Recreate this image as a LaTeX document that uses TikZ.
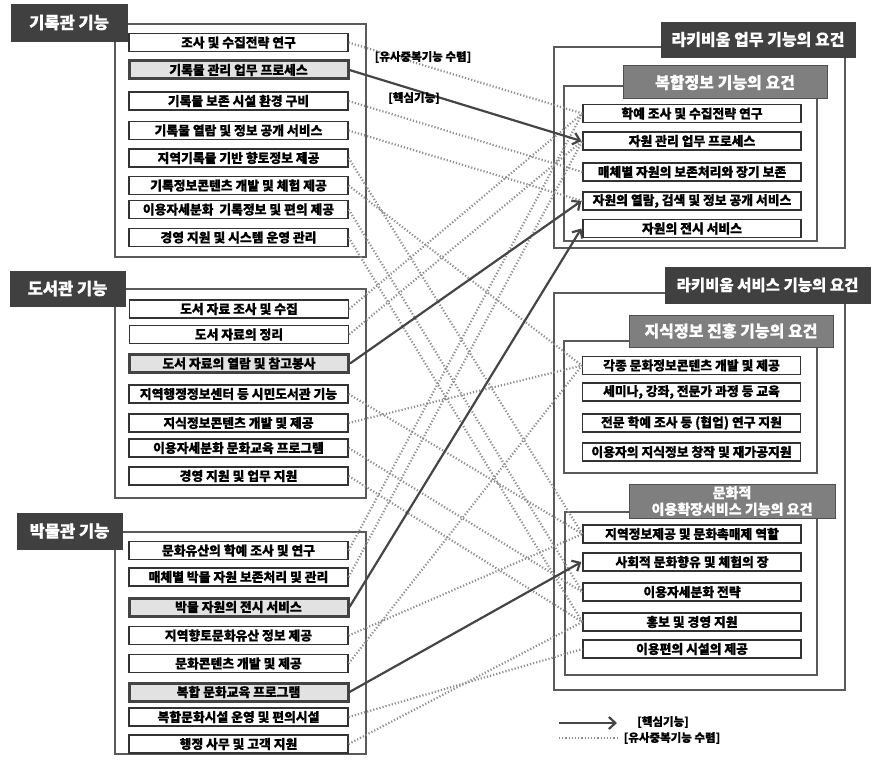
\documentclass[tikz,border=0pt]{standalone}
\usepackage{fontspec}
\setmainfont{Noto Sans CJK KR}[BoldFeatures={FakeBold=0.6}]
\usetikzlibrary{arrows.meta}
\definecolor{hdark}{HTML}{404040}
\definecolor{hmid}{HTML}{7F7F7F}
\definecolor{hmidline}{HTML}{505050}
\definecolor{outl}{HTML}{5A5A5A}
\definecolor{itemline}{HTML}{333333}
\definecolor{keyfill}{HTML}{E2E2E2}
\definecolor{keyline}{HTML}{444444}
\definecolor{dotc}{HTML}{8E8E8E}
\definecolor{arrowc}{HTML}{454545}
\begin{document}
\begin{tikzpicture}[x=1pt,y=-1pt,
  outer/.style={draw=outl,line width=1.1pt,fill=none,inner sep=0pt},
  hdr/.style={fill=hdark,draw=hdark,text=white,inner sep=0pt,font=\fontsize{16.5}{18}\selectfont\bfseries},
  sub/.style={fill=hmid,draw=hmidline,line width=1pt,text=white,inner sep=0pt,font=\fontsize{16}{18}\selectfont\bfseries},
  item/.style={draw=itemline,line width=1.3pt,fill=white,minimum width=219pt,minimum height=18pt,inner sep=0pt,font=\fontsize{12.8}{14}\selectfont\bfseries},
  ritem/.style={item,minimum width=218pt},
  key/.style={item,fill=keyfill,draw=keyline,line width=3pt},
  sim/.style={draw=dotc,line width=2.2pt,dash pattern=on 1.2pt off 2pt},
  core/.style={draw=arrowc,line width=2.2pt,-{Straight Barb[length=6.5pt,width=12pt]}},
  lbl/.style={inner sep=0pt,font=\fontsize{11.5}{13}\selectfont\bfseries}
]
\useasboundingbox (0,0) rectangle (872,765);

% ---------- left outer boxes and headers ----------
\node[outer,minimum width=251pt,minimum height=233pt] (B1) at (240.5,140.5) {};
\node[outer,minimum width=251pt,minimum height=209pt] (B2) at (240.5,393.5) {};
\node[outer,minimum width=251pt,minimum height=222pt] (B3) at (240.5,643) {};
\node[hdr,minimum width=116pt,minimum height=37pt] (H1) at (69,22.5) {기록관 기능};
\node[hdr,minimum width=115pt,minimum height=35pt] (H2) at (67.5,288.5) {도서관 기능};
\node[hdr,minimum width=105pt,minimum height=36pt] (H3) at (69.5,531) {박물관 기능};

% ---------- right boxes and headers ----------
\node[outer,minimum width=291pt,minimum height=201pt] (RB1) at (699.5,147.5) {};
\node[hdr,minimum width=194pt,minimum height=35pt,font=\fontsize{16}{18}\selectfont\bfseries] (RH1) at (758,39.5) {라키비움 업무 기능의 요건};
\node[outer,minimum width=253pt,minimum height=155pt] (RI1) at (690.5,163.5) {};
\node[sub,minimum width=204pt,minimum height=33pt] (RS1) at (725,82.5) {복합정보 기능의 요건};

\node[outer,minimum width=291pt,minimum height=397pt] (RB2) at (699.5,491.5) {};
\node[hdr,minimum width=205pt,minimum height=36pt,font=\fontsize{15.5}{18}\selectfont\bfseries] (RH2) at (767.5,285) {라키비움 서비스 기능의 요건};
\node[outer,minimum width=253pt,minimum height=132pt] (RI2) at (690.5,407) {};
\node[sub,minimum width=204pt,minimum height=32pt] (RS2) at (731,331) {지식정보 진흥 기능의 요건};
\node[outer,minimum width=252pt,minimum height=163pt] (RI3) at (691,593.5) {};
\node[sub,minimum width=206pt,minimum height=34pt,align=center,font=\fontsize{14}{16.5}\selectfont\bfseries] (RS3) at (732,501) {문화적\\이용확장서비스 기능의 요건};

% ---------- left items ----------
\node[item] (a1) at (238.5,42.5) {조사 및 수집전략 연구};
\node[key]  (a2) at (238.5,70) {기록물 관리 업무 프로세스};
\node[item] (a3) at (238.5,101) {기록물 보존 시설 환경 구비};
\node[item] (a4) at (238.5,130.5) {기록물 열람 및 정보 공개 서비스};
\node[item] (a5) at (238.5,158) {지역기록물 기반 향토정보 제공};
\node[item] (a6) at (238.5,185.5) {기록정보콘텐츠 개발 및 체험 제공};
\node[item] (a7) at (238.5,209.5) {이용자세분화 \ 기록정보 및 편의 제공};
\node[item] (a8) at (238.5,237.5) {경영 지원 및 시스템 운영 관리};

\node[item] (b1) at (239,309) {도서 자료 조사 및 수집};
\node[item] (b2) at (239,334.5) {도서 자료의 정리};
\node[key]  (b3) at (239,363.5) {도서 자료의 열람 및 참고봉사};
\node[item] (b4) at (238.5,394) {지역행정정보센터 등 시민도서관 기능};
\node[item] (b5) at (238.5,423) {지식정보콘텐츠 개발 및 제공};
\node[item] (b6) at (238.5,448) {이용자세분화 문화교육 프로그램};
\node[item] (b7) at (238.5,476) {경영 지원 및 업무 지원};

\node[item] (c1) at (238.5,550.5) {문화유산의 학예 조사 및 연구};
\node[item] (c2) at (238.5,577) {매체별 박물 자원 보존처리 및 관리};
\node[key]  (c3) at (238.5,607) {박물 자원의 전시 서비스};
\node[item] (c4) at (238.5,635.5) {지역향토문화유산 정보 제공};
\node[item] (c5) at (238.5,663.5) {문화콘텐츠 개발 및 제공};
\node[key]  (c6) at (238.5,692) {복합 문화교육 프로그램};
\node[item] (c7) at (238.5,717) {복합문화시설 운영 및 편의시설};
\node[item] (c8) at (238.5,744) {행정 사무 및 고객 지원};

% ---------- right items ----------
\node[ritem] (p1) at (692,113.5) {학예 조사 및 수집전략 연구};
\node[ritem] (p2) at (692,141) {자원 관리 업무 프로세스};
\node[ritem] (p3) at (692,172) {매체별 자원의 보존처리와 장기 보존};
\node[ritem] (p4) at (692,201) {자원의 열람, 검색 및 정보 공개 서비스};
\node[ritem] (p5) at (692,228.5) {자원의 전시 서비스};

\node[ritem] (q1) at (691.5,365.5) {각종 문화정보콘텐츠 개발 및 제공};
\node[ritem] (q2) at (691.5,392) {세미나, 강좌, 전문가 과정 등 교육};
\node[ritem] (q3) at (691.5,423) {전문 학예 조사 등 (협업) 연구 지원};
\node[ritem] (q4) at (691.5,452) {이용자의 지식정보 창작 및 재가공지원};

\node[ritem] (r1) at (692,534) {지역정보제공 및 문화촉매제 역할};
\node[ritem] (r2) at (692,562) {사회적 문화향유 및 체험의 장};
\node[ritem] (r3) at (692,592) {이용자세분화 전략};
\node[ritem] (r4) at (692,622) {홍보 및 경영 지원};
\node[ritem] (r5) at (692,649) {이용편의 시설의 제공};

% ---------- dotted connectors ----------
\draw[sim] (a1.east) -- (p1.west);
\draw[sim] (a3.east) -- (p3.west);
\draw[sim] (a4.east) -- (p4.west);
\draw[sim] (a5.east) -- (r1.west);
\draw[sim] (a6.east) -- (q1.west);
\draw[sim] (a7.east) -- (r3.west);
\draw[sim] (a8.east) -- (r4.west);
\draw[sim] (b1.east) -- (p1.west);
\draw[sim] (b2.east) -- (p2.west);
\draw[sim] (b4.east) -- (r1.west);
\draw[sim] (b5.east) -- (q1.west);
\draw[sim] (b6.east) -- (r3.west);
\draw[sim] (b7.east) -- (r4.west);
\draw[sim] (c1.east) -- (p1.west);
\draw[sim] (c2.east) -- (p2.west);
\draw[sim] (c4.east) -- (r1.west);
\draw[sim] (c5.east) -- (q1.west);
\draw[sim] (c7.east) -- (r5.west);
\draw[sim] (c8.east) -- (r4.west);

% ---------- solid connectors ----------
\draw[core] (a2.east) -- ([xshift=-1pt]p2.west);
\draw[core] (b3.east) -- ([xshift=-1pt]p4.west);
\draw[core] (c3.east) -- ([xshift=-1pt]p5.west);
\draw[core] (c6.east) -- ([xshift=-1pt]r2.west);

% ---------- labels ----------
\node[lbl] (l1) at (423,57) {[유사중복기능 수렴]};
\node[lbl] (l2) at (414,98) {[핵심기능]};

% ---------- legend ----------
\coordinate (k1) at (559,723);
\coordinate (k2) at (617,723);
\coordinate (k3) at (559,738);
\coordinate (k4) at (618,738);
\draw[core] (k1) -- (k2);
\draw[sim] (k3) -- (k4);
\node[lbl] (k5) at (663,722) {[핵심기능]};
\node[lbl] (k6) at (672,738) {[유사중복기능 수렴]};
\end{tikzpicture}
\end{document}
